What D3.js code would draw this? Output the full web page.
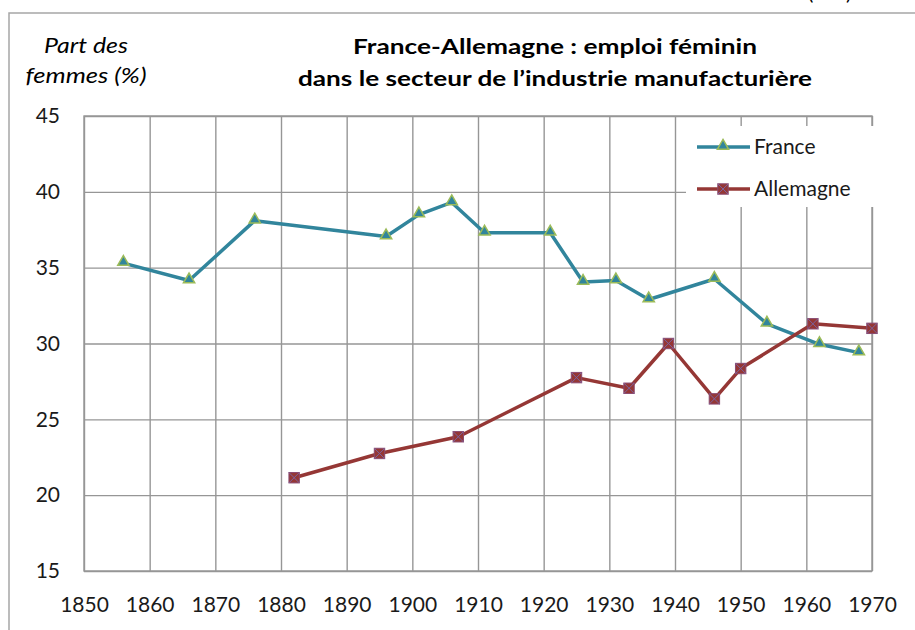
<html>
<head>
<meta charset="utf-8">
<style>
  body { margin: 0; background: #fff; }
  text { font-family: Lato, "Open Sans", sans-serif; }
</style>
</head>
<body>

<script src="https://d3js.org/d3.v7.min.js"></script>
<script>

    // values
    var franceYears = [1856, 1866, 1876, 1896, 1901, 1906, 1911, 1921, 1926, 1931, 1936, 1946, 1954, 1962, 1968];
    var franceValues = [35.3, 34.15, 38.1, 37.05, 38.5, 39.3, 37.3, 37.3, 34.05, 34.15, 32.9, 34.25, 31.3, 29.95, 29.4];

    var allemagneYears = [1882, 1895, 1907, 1925, 1933, 1939, 1946, 1950, 1961, 1970];
    var allemagneValues = [21.15, 22.75, 23.85, 27.75, 27.05, 30.0, 26.35, 28.35, 31.3, 31.0];

    var xTicks = [1850, 1860, 1870, 1880, 1890, 1900, 1910, 1920, 1930, 1940, 1950, 1960, 1970];
    var yTicks = [15, 20, 25, 30, 35, 40, 45];

    var seriesNames = ["France", "Allemagne"];

    var width = 915,
        height = 630;

    var plotLeft = 84, plotRight = 872, plotTop = 116, plotBottom = 571;

    var x = d3.scaleLinear().domain([1850, 1970]).range([plotLeft, plotRight]);
    var y = d3.scaleLinear().domain([15, 45]).range([plotBottom, plotTop]);

    var svg = d3.select("body").append("svg").attr("width", width).attr("height", height);

    // outer frame
    svg.append("path")
        .attr("d", "M9,640 L9,13 L925,13")
        .attr("fill", "none")
        .attr("stroke", "#a6a6a6")
        .attr("stroke-width", 1.5);

    // bits of text cut off at the top
    svg.append("text").attr("x", 808).attr("y", 0).attr("font-size", 20).text("(");
    svg.append("text").attr("x", 846).attr("y", 0).attr("font-size", 20).text(")");

    // grid + axes
    var gx = svg.append("g")
        .attr("transform", "translate(0," + plotBottom + ")")
        .call(d3.axisBottom(x).tickValues(xTicks).tickFormat(d3.format("d")).tickSize(-(plotBottom - plotTop)));
    gx.select(".domain").remove();
    gx.selectAll("line").attr("stroke", "#969696").attr("stroke-width", 1.4);
    gx.selectAll("text")
        .attr("y", 34).attr("dy", "0.35em")
        .attr("font-size", 21).attr("fill", "#1a1a1a")
        .style("font-family", "Lato, sans-serif");

    var gy = svg.append("g")
        .attr("transform", "translate(" + plotLeft + ",0)")
        .call(d3.axisLeft(y).tickValues(yTicks).tickSize(-(plotRight - plotLeft)).tickPadding(24));
    gy.select(".domain").remove();
    gy.selectAll("line").attr("stroke", "#969696").attr("stroke-width", 1.4);
    gy.selectAll("text")
        .attr("font-size", 21).attr("fill", "#1a1a1a")
        .style("font-family", "Lato, sans-serif");

    svg.append("rect")
        .attr("x", plotLeft).attr("y", plotTop)
        .attr("width", plotRight - plotLeft).attr("height", plotBottom - plotTop)
        .attr("fill", "none").attr("stroke", "#969696").attr("stroke-width", 1.4);

    // legend box hides the grid
    svg.append("rect")
        .attr("x", 686).attr("y", 126).attr("width", 190).attr("height", 81)
        .attr("fill", "#fff");

    // titles
    svg.append("text").attr("x", 555).attr("y", 54)
        .attr("text-anchor", "middle").attr("font-weight", "bold").attr("font-size", 20)
        .attr("textLength", 404).attr("lengthAdjust", "spacingAndGlyphs")
        .text("France-Allemagne : emploi féminin");
    svg.append("text").attr("x", 555).attr("y", 86)
        .attr("text-anchor", "middle").attr("font-weight", "bold").attr("font-size", 20)
        .attr("textLength", 514).attr("lengthAdjust", "spacingAndGlyphs")
        .text("dans le secteur de l’industrie manufacturière");

    svg.append("text").attr("x", 86).attr("y", 53)
        .attr("text-anchor", "middle").attr("font-style", "italic").attr("font-size", 21)
        .attr("textLength", 84).attr("lengthAdjust", "spacingAndGlyphs")
        .text("Part des");
    svg.append("text").attr("x", 86).attr("y", 83)
        .attr("text-anchor", "middle").attr("font-style", "italic").attr("font-size", 21)
        .attr("textLength", 121).attr("lengthAdjust", "spacingAndGlyphs")
        .text("femmes (%)");

    var franceColor = "#31859c",
        allemagneColor = "#953735";

    var line = d3.line()
        .x(function (d) { return x(d[0]); })
        .y(function (d) { return y(d[1]); });

    var franceData = d3.zip(franceYears, franceValues);
    var allemagneData = d3.zip(allemagneYears, allemagneValues);

    svg.append("path").datum(franceData)
        .attr("d", line).attr("fill", "none")
        .attr("stroke", franceColor).attr("stroke-width", 3.5).attr("stroke-linejoin", "round");

    svg.append("path").datum(allemagneData)
        .attr("d", line).attr("fill", "none")
        .attr("stroke", allemagneColor).attr("stroke-width", 3.5).attr("stroke-linejoin", "round");

    var triangle = d3.symbol().type(d3.symbolTriangle).size(55);

    function drawTriangle(g, cx, cy) {
        g.append("path")
            .attr("d", triangle)
            .attr("transform", "translate(" + cx + "," + (cy - 1) + ")")
            .attr("fill", franceColor).attr("stroke", "#9bbb59").attr("stroke-width", 1.5);
    }

    function drawSquare(g, cx, cy) {
        var s = 5.2;
        g.append("rect")
            .attr("x", cx - s).attr("y", cy - s).attr("width", 2 * s).attr("height", 2 * s)
            .attr("fill", allemagneColor).attr("stroke", "#8a4a70").attr("stroke-width", 1);
        g.append("path")
            .attr("d", "M" + (cx - s) + "," + (cy - s) + "L" + (cx + s) + "," + (cy + s) +
                "M" + (cx + s) + "," + (cy - s) + "L" + (cx - s) + "," + (cy + s))
            .attr("stroke", "#7b63a0").attr("stroke-width", 1);
    }

    var marks = svg.append("g");
    franceData.forEach(function (d) { drawTriangle(marks, x(d[0]), y(d[1])); });
    allemagneData.forEach(function (d) { drawSquare(marks, x(d[0]), y(d[1])); });

    // legend
    var legend = svg.append("g");
    [[franceColor, 147], [allemagneColor, 189]].forEach(function (l, i) {
        legend.append("line")
            .attr("x1", 697).attr("x2", 750).attr("y1", l[1]).attr("y2", l[1])
            .attr("stroke", l[0]).attr("stroke-width", 3.5);
        if (i === 0) drawTriangle(legend, 723, l[1]);
        else drawSquare(legend, 723, l[1]);
        legend.append("text")
            .attr("x", 754).attr("y", l[1]).attr("dy", "0.35em")
            .attr("font-size", 21).attr("fill", "#1a1a1a")
            .text(seriesNames[i]);
    });

</script>
</body>
</html>
